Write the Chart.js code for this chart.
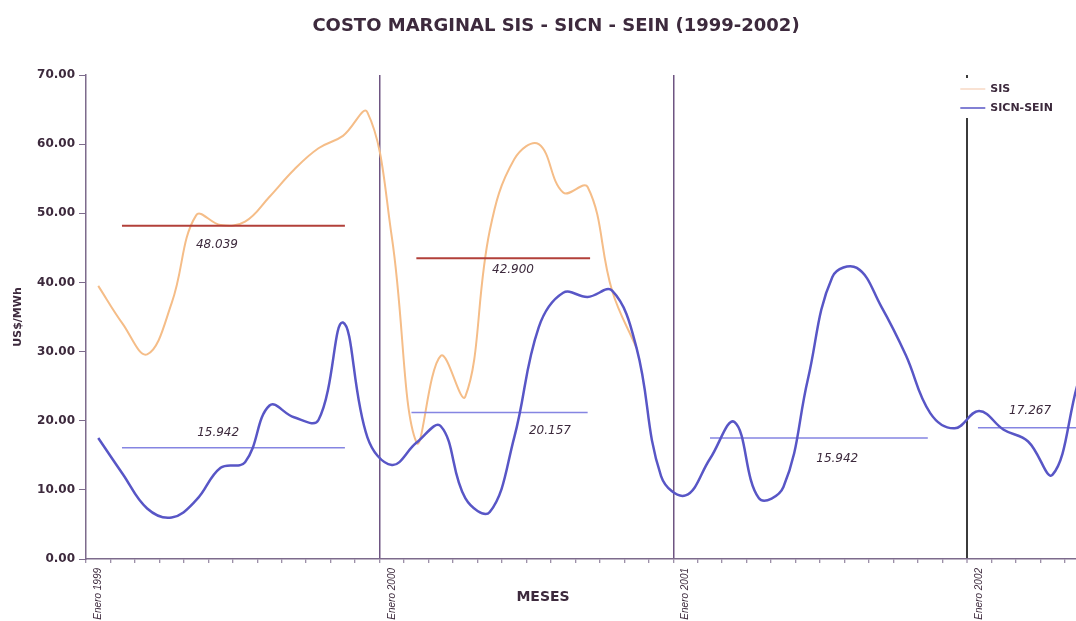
<!DOCTYPE html>
<html>
<head>
<meta charset="utf-8">
<title>Costo marginal SIS - SICN - SEIN</title>
<script src="https://cdn.jsdelivr.net/npm/chart.js@4.4.1/dist/chart.umd.min.js"></script>
<style>
  html, body { margin: 0; padding: 0; background: #fff; overflow: hidden; }
</style>
</head>
<body>
<canvas id="costoChart" width="1112" height="621"></canvas>
<script>
// meses de enero 1999 a mayo 2002
const anios = ['1999', '2000', '2001', '2002'];
const nombresMes = ['Enero', 'Febrero', 'Marzo', 'Abril', 'Mayo', 'Junio', 'Julio',
    'Agosto', 'Septiembre', 'Octubre', 'Noviembre', 'Diciembre'];
const mesesUltimoAnio = 5;

// costo marginal mensual US$/MWh
const sisValores = [39.5, 34.0, 29.6, 37.0, 49.7, 48.3, 48.8, 52.4, 56.3, 59.4, 61.2, 64.6,
    46.5, 16.9, 29.4, 23.5, 47.5, 57.8, 60.0, 53.0, 53.8, 38.8, 30.5];
const sicnValores = [17.5, 12.3, 7.3, 6.0, 8.5, 13.2, 14.0, 22.2, 20.5, 20.1, 34.2, 17.6,
    13.6, 16.8, 19.2, 8.8, 6.8, 17.6, 33.5, 38.5, 37.9, 38.8, 30.5, 12.0,
    9.2, 14.5, 19.8, 8.8, 10.4, 26.0, 40.8, 42.1, 36.5, 29.5, 21.1, 18.9,
    21.4, 18.7, 17.0, 12.2, 25.0];

// promedios anuales (desde / hasta en indice de mes)
const promSis = [48.2, 43.5];
const promSisDesde = [0.97, 13.0];
const promSisHasta = [10.08, 20.1];
const promSisTexto = ['48.039', '42.900'];

const promSicn = [16.1, 21.2, 17.5, 19.0];
const promSicnDesde = [0.97, 12.8, 25.0, 35.95];
const promSicnHasta = [10.08, 20.0, 33.9, 41.0];
const promSicnTexto = ['15.942', '20.157', '15.942', '17.267'];

// donde van los textos de los promedios (mes, valor)
const textoX = [4.85, 16.95, 4.9, 18.46, 30.2, 38.08];
const textoY = [45.4, 41.8, 18.2, 18.5, 14.5, 21.4];

const yTicks = [0, 10, 20, 30, 40, 50, 60, 70];

let meses = [];
anios.forEach((a, i) => {
    let n = (i == anios.length - 1) ? mesesUltimoAnio : 12;
    for (let m = 0; m < n; m++) {
        meses.push(nombresMes[m] + ' ' + a);
    }
});

const colorTexto = '#3d2a3d';
const colorEje = '#7d6b8c';

Chart.defaults.font.family = '"DejaVu Sans", sans-serif';
Chart.defaults.color = colorTexto;

let datasets = [
    {
        label: 'SICN-SEIN',
        data: sicnValores,
        borderColor: '#5856c6',
        borderWidth: 2.5,
        pointRadius: 0,
        tension: 0.4,
        order: 0
    },
    {
        label: 'SIS',
        data: sisValores,
        borderColor: '#f5bd88',
        borderWidth: 2,
        pointRadius: 0,
        tension: 0.4,
        order: 2
    }
];

promSis.forEach((v, i) => {
    datasets.push({
        label: 'prom',
        xAxisID: 'x2',
        data: [{x: promSisDesde[i], y: v}, {x: promSisHasta[i], y: v}],
        borderColor: '#b2403a',
        borderWidth: 2,
        pointRadius: 0,
        order: 1
    });
});
promSicn.forEach((v, i) => {
    datasets.push({
        label: 'prom',
        xAxisID: 'x2',
        data: [{x: promSicnDesde[i], y: v}, {x: promSicnHasta[i], y: v}],
        borderColor: '#8585e2',
        borderWidth: 1.5,
        pointRadius: 0,
        order: 1
    });
});

const textos = promSisTexto.concat(promSicnTexto);

// textos de promedios, titulo MESES y leyenda
const notas = {
    id: 'notas',
    afterDatasetsDraw(chart) {
        const ctx = chart.ctx;
        const area = chart.chartArea;
        const xs = chart.scales.x2;
        const ys = chart.scales.y;
        ctx.save();
        ctx.fillStyle = colorTexto;
        ctx.textAlign = 'center';
        ctx.textBaseline = 'middle';
        ctx.font = 'italic 12px "DejaVu Sans"';
        textos.forEach((t, i) => {
            ctx.fillText(t, xs.getPixelForValue(textoX[i]), ys.getPixelForValue(textoY[i]));
        });

        ctx.font = 'bold 14px "DejaVu Sans"';
        ctx.fillText('MESES', area.left + 457, area.bottom + 38);

        // leyenda
        let lx = area.right - 134;
        let ly = area.top + 3;
        ctx.fillStyle = '#fff';
        ctx.fillRect(lx, ly, 120, 40);
        let items = [['SIS', '#f7d9c4', 11], ['SICN-SEIN', '#5856c6', 30]];
        ctx.textAlign = 'left';
        ctx.font = 'bold 11px "DejaVu Sans"';
        items.forEach(it => {
            ctx.strokeStyle = it[1];
            ctx.lineWidth = 1.5;
            ctx.beginPath();
            ctx.moveTo(lx + 5, ly + it[2]);
            ctx.lineTo(lx + 30, ly + it[2]);
            ctx.stroke();
            ctx.fillStyle = colorTexto;
            ctx.fillText(it[0], lx + 35, ly + it[2]);
        });
        ctx.restore();
    }
};

function lineaAnio(c) {
    let lab = meses[c.index] || '';
    if (lab == 'Enero 2002') return '#3b3b3b';
    if (c.index > 0 && lab.indexOf('Enero') == 0) return '#6e5582';
    return 'rgba(0,0,0,0)';
}

const ctxC = document.getElementById('costoChart').getContext('2d');
const costoChart = new Chart(ctxC, {
    type: 'line',
    data: {
        labels: meses,
        datasets: datasets
    },
    options: {
        responsive: false,
        animation: false,
        layout: {
            padding: {left: 22.7, right: 22.7, top: 0, bottom: 0}
        },
        plugins: {
            legend: {display: false},
            tooltip: {enabled: false},
            title: {
                display: true,
                text: 'COSTO MARGINAL SIS - SICN - SEIN (1999-2002)',
                font: {size: 18, weight: 'bold'},
                color: colorTexto,
                padding: {top: 15.2, bottom: 38.2}
            }
        },
        scales: {
            x: {
                offset: true,
                afterFit: s => { s.height = 62; },
                grid: {
                    offset: true,
                    color: lineaAnio,
                    lineWidth: c => (meses[c.index] == 'Enero 2002' ? 2 : 1.5),
                    tickColor: colorEje,
                    tickLength: 4,
                    tickWidth: 1
                },
                border: {color: colorEje, width: 1.5},
                ticks: {
                    autoSkip: false,
                    minRotation: 90,
                    maxRotation: 90,
                    padding: 5,
                    font: {family: '"Liberation Sans"', size: 10, style: 'italic'},
                    callback: function (v, i) {
                        let lab = meses[i];
                        return lab.indexOf('Enero') == 0 ? lab : '';
                    }
                }
            },
            x2: {
                type: 'linear',
                display: false,
                min: -0.5,
                max: meses.length - 0.5
            },
            y: {
                min: 0,
                max: 70,
                afterFit: s => { s.width = 63.3; },
                afterBuildTicks: s => { s.ticks = yTicks.map(v => ({value: v})); },
                grid: {
                    drawOnChartArea: false,
                    tickLength: 7,
                    tickColor: colorEje
                },
                border: {color: colorEje, width: 1.5},
                ticks: {
                    padding: 4,
                    font: {size: 12, weight: 'bold'},
                    callback: v => v.toFixed(2)
                },
                title: {
                    display: true,
                    text: 'US$/MWh',
                    font: {size: 11, weight: 'bold'},
                    padding: {top: -10.9, bottom: 6.9}
                }
            }
        }
    },
    plugins: [notas]
});
</script>
</body>
</html>
